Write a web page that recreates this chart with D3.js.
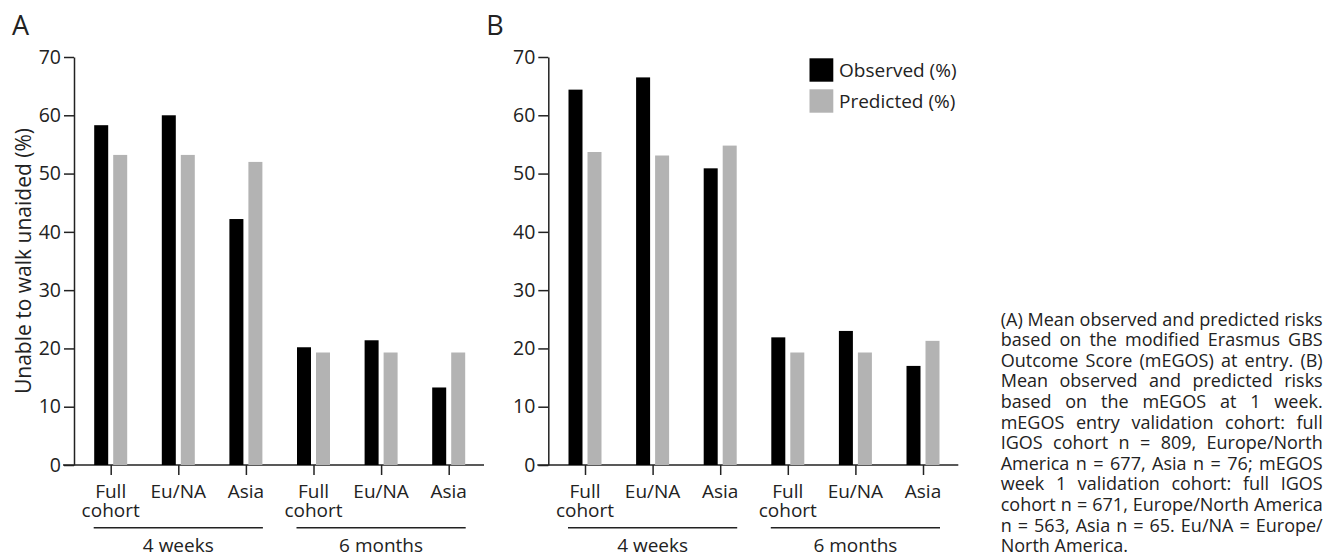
<!DOCTYPE html>
<html><head><meta charset="utf-8">
<script src="https://cdn.jsdelivr.net/npm/d3@7"></script>
<style>
html,body{margin:0;padding:0;background:#fff;}
svg{display:block;font-family:"Open Sans",sans-serif;}
</style></head>
<body><svg id="chart" width="1337" height="558"></svg>
<script>
// ---- data ----
const categories = [["Full","cohort"],["Eu/NA"],["Asia"],["Full","cohort"],["Eu/NA"],["Asia"]];
const groups = ["4 weeks","6 months"];
const seriesNames = ["Observed (%)","Predicted (%)"];
const observedA = [58.3, 60.0, 42.2, 20.2, 21.4, 13.3];
const predictedA = [53.2, 53.2, 52.0, 19.3, 19.3, 19.3];
const observedB = [64.4, 66.5, 50.9, 21.9, 23.0, 17.0];
const predictedB = [53.7, 53.1, 54.8, 19.3, 19.3, 21.3];
const yTicks = [0, 10, 20, 30, 40, 50, 60, 70];
const yTitle = "Unable to walk unaided (%)";
const captionLines = [
 "(A) Mean observed and predicted risks",
 "based on the modified Erasmus GBS",
 "Outcome Score (mEGOS) at entry. (B)",
 "Mean observed and predicted risks",
 "based on the mEGOS at 1 week.",
 "mEGOS entry validation cohort: full",
 "IGOS cohort n = 809, Europe/North",
 "America n = 677, Asia n = 76; mEGOS",
 "week 1 validation cohort: full IGOS",
 "cohort n = 671, Europe/North America",
 "n = 563, Asia n = 65. Eu/NA = Europe/",
 "North America."
];

const colors = {obs:"#000000", pred:"#b3b3b3", ink:"#222222"};
const FS = 19, TFS = 19.5;
const svg = d3.select("#chart");

function label(g, x, y, lines, fs, anchor, lh) {
  const t = g.append("text").attr("x", x).attr("y", y)
    .attr("font-size", fs).attr("fill", colors.ink).attr("text-anchor", anchor || "start");
  lines.forEach((s, j) => t.append("tspan").attr("x", x).attr("y", y + j * (lh || 0)).text(s));
  return t;
}

const y = d3.scaleLinear().domain([0,70]).range([465,57]);

function panel(x0, letter, obs, pred) {
  const g = svg.append("g");
  const x = d3.scalePoint().domain(d3.range(categories.length)).range([x0+36.7, x0+374.7]);
  label(g, x0-62, 35, [letter], 27);
  // y axis
  const ya = g.append("g").attr("transform", `translate(${x0},0)`)
    .call(d3.axisLeft(y).tickValues(yTicks).tickSize(10).tickPadding(3).tickSizeOuter(0));
  ya.select(".domain").attr("stroke", colors.ink).attr("stroke-width", 1.5);
  ya.selectAll(".tick line").attr("stroke", colors.ink).attr("stroke-width", 1.5);
  ya.selectAll(".tick text").attr("font-size", TFS).attr("fill", colors.ink).attr("font-family", "Open Sans");
  // x axis
  const xa = g.append("g").attr("transform", `translate(0,${y(0)})`)
    .call(d3.axisBottom(x).tickSize(10).tickSizeOuter(0).tickFormat(""));
  xa.select(".domain").remove();
  xa.selectAll(".tick line").attr("stroke", colors.ink).attr("stroke-width", 1.5);
  g.append("line").attr("x1", x0-11).attr("x2", x0+410).attr("y1", y(0)).attr("y2", y(0))
    .attr("stroke", colors.ink).attr("stroke-width", 1.5);
  // bars
  const bw = 14, gap = 2.5;
  g.selectAll(".obs").data(obs).join("rect").attr("class", "obs")
    .attr("x", (d,i) => x(i) - gap - bw).attr("width", bw)
    .attr("y", d => y(d)).attr("height", d => y(0) - y(d)).attr("fill", colors.obs);
  g.selectAll(".pred").data(pred).join("rect").attr("class", "pred")
    .attr("x", (d,i) => x(i) + gap).attr("width", bw)
    .attr("y", d => y(d)).attr("height", d => y(0) - y(d)).attr("fill", colors.pred);
  // category labels
  categories.forEach((c, i) => label(g, x(i), 498.3, c, FS, "middle", 18.4));
  // group brackets
  groups.forEach((gr, k) => {
    const a = x(k*3) - 17, b = x(k*3+2) + 17;
    g.append("line").attr("x1", a).attr("x2", b).attr("y1", 527.7).attr("y2", 527.7)
      .attr("stroke", colors.ink).attr("stroke-width", 1.5);
    label(g, x(k*3+1), 552, [gr], FS, "middle");
  });
}

panel(74, "A", observedA, predictedA);
panel(548.3, "B", observedB, predictedB);

// y title (panel A)
svg.append("text").attr("transform", `translate(31,${(y(0)+y(70))/2}) rotate(-90)`)
  .attr("text-anchor", "middle").attr("font-size", 21).attr("fill", colors.ink).text(yTitle);

// legend
const leg = svg.append("g");
[colors.obs, colors.pred].forEach((c, i) => {
  leg.append("rect").attr("x", 809.5).attr("y", 58.3 + i*31).attr("width", 23.8).attr("height", 23.4).attr("fill", c);
  label(leg, 839, 77 + i*30.5, [seriesNames[i]], FS);
});

// caption, justified: each word placed so that every line (but the last) fills the column
const capL = 1000.7, capR = 1322.7, capFS = 18, capY0 = 325.5, capLH = 20.6;
const cap = svg.append("g").attr("font-size", capFS).attr("fill", colors.ink);
captionLines.forEach((line, li) => {
  const yy = capY0 + li*capLH;
  const words = line.split(" ");
  const nodes = words.map(w => cap.append("text").attr("y", yy).text(w));
  const widths = nodes.map(n => n.node().getComputedTextLength());
  const last = li === captionLines.length - 1;
  const normalSp = capFS * 0.26;
  const sp = last ? normalSp : ((capR - capL) - d3.sum(widths)) / (words.length - 1);
  let cx = capL;
  nodes.forEach((n, i) => { n.attr("x", cx); cx += widths[i] + sp; });
});
</script></body></html>
